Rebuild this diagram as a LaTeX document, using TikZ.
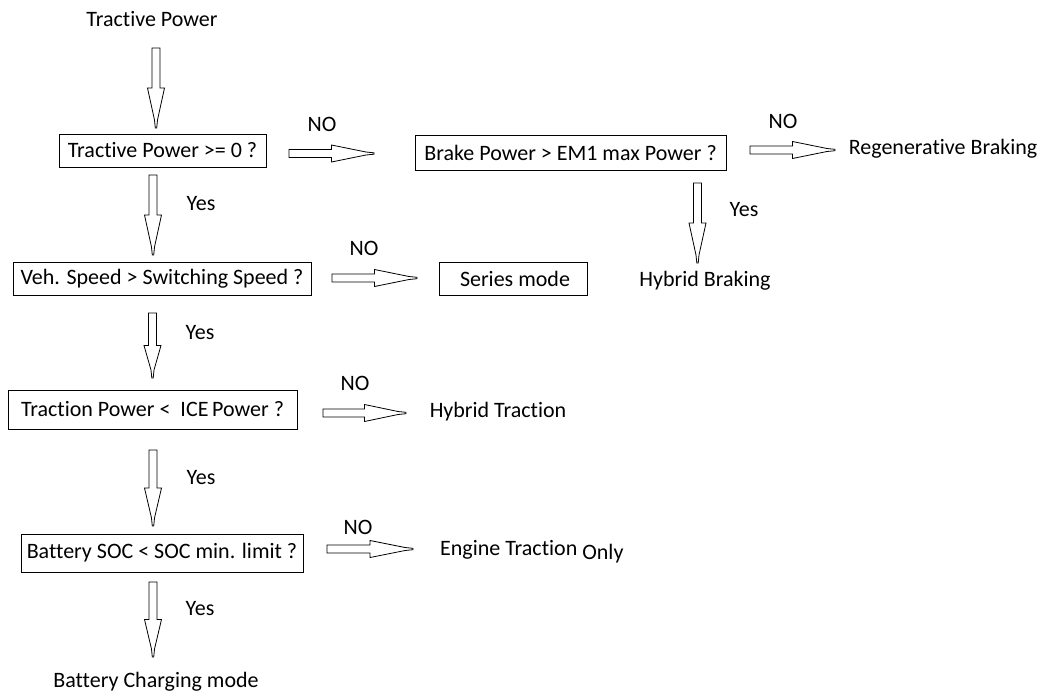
\documentclass[tikz,border=0pt]{standalone}
\usepackage{fontspec}
\setmainfont{Carlito}[Ligatures=NoCommon]
\usetikzlibrary{calc}
\begin{document}
\begin{tikzpicture}[x=1pt,y=-1pt,
  every node/.style={font=\fontsize{22}{24}\selectfont, inner sep=0pt, text=black},
  box/.style={draw, line width=0.9pt},
  lbl/.style={},
  hollow/.style={draw, line width=0.8pt, line join=miter, to path={
    ($(\tikztostart)!4pt!90:(\tikztotarget)$)
    -- ($(\tikztostart)!0.5!(\tikztotarget)!4pt!90:(\tikztotarget)$)
    -- ($(\tikztostart)!0.5!(\tikztotarget)!8.5pt!90:(\tikztotarget)$)
    -- ($(\tikztotarget)!8pt!(\tikztostart)!1.5pt!-90:(\tikztostart)$)
    -- ($(\tikztotarget)!0.7pt!-90:(\tikztostart)$)
    -- ($(\tikztotarget)!0.7pt!90:(\tikztostart)$)
    -- ($(\tikztotarget)!8pt!(\tikztostart)!1.5pt!90:(\tikztostart)$)
    -- ($(\tikztostart)!0.5!(\tikztotarget)!8.5pt!-90:(\tikztotarget)$)
    -- ($(\tikztostart)!0.5!(\tikztotarget)!4pt!-90:(\tikztotarget)$)
    -- ($(\tikztostart)!4pt!-90:(\tikztotarget)$)
    -- cycle}}
]
\useasboundingbox (0,0) rectangle (1045,694);

% ---- text and decision boxes ----
\node[lbl] (start) at (152,19) {Tractive Power};
\node[box, minimum width=207pt, minimum height=33pt] (q1) at (162.5,150.5) {Tractive Power >= 0 ?};
\node[box, minimum width=311pt, minimum height=35pt] (q2) at (570.5,152.5) {Brake Power > EM1 max Power ?};
\node[lbl] (regen) at (943,149) {Regenerative Braking};
\node[lbl] (hbrake) at (705,281) {Hybrid Braking};
\node[box, minimum width=298pt, minimum height=33pt] (q3) at (162,278.5) {Veh. Speed > Switching Speed ?};
\node[box, minimum width=148pt, minimum height=33pt] (series) at (513,278.5) {\hspace{4pt}Series mode};
\node[box, minimum width=289pt, minimum height=39pt] (q4) at (152.5,409.5) {Traction Power <\ \ ICE\,Power ?};
\node[lbl] (htrac) at (498,412) {Hybrid Traction};
\node[box, minimum width=282pt, minimum height=38pt] (q5) at (162,553) {Battery SOC < SOC min. limit ?};
\node[lbl, anchor=west] (engine) at (440,552) {Engine Traction \raisebox{-4pt}{Only}};
\node[lbl] (charge) at (156,682) {Battery Charging mode};

% ---- branch labels ----
\node (no1) at (322,124) {NO};
\node (no2) at (783,121) {NO};
\node (no3) at (364,248) {NO};
\node (no4) at (355,383) {NO};
\node (no5) at (358,527) {NO};
\node (yes1) at (201,204) {Yes};
\node (yes2) at (744,210) {Yes};
\node (yes3) at (200,333) {Yes};
\node (yes4) at (201,478) {Yes};
\node (yes5) at (200,609) {Yes};

% ---- block arrow end points ----
\coordinate (a0s) at (156,48);   \coordinate (a0e) at (156,128);
\coordinate (a1s) at (153,175);  \coordinate (a1e) at (153,255);
\coordinate (a2s) at (152.5,313);\coordinate (a2e) at (152.5,378);
\coordinate (a3s) at (153,450);  \coordinate (a3e) at (153,526);
\coordinate (a4s) at (153,582);  \coordinate (a4e) at (153,657);
\coordinate (a5s) at (697.5,183);\coordinate (a5e) at (697.5,263);
\coordinate (h1s) at (289,153.5);\coordinate (h1e) at (374,153.5);
\coordinate (h2s) at (750,150);  \coordinate (h2e) at (835,150);
\coordinate (h3s) at (332,278);  \coordinate (h3e) at (417,278);
\coordinate (h4s) at (323,413);  \coordinate (h4e) at (406,413);
\coordinate (h5s) at (327,549);  \coordinate (h5e) at (413,549);

% ---- block arrows ----
\draw[hollow] (a0s) to (a0e);
\draw[hollow] (a1s) to (a1e);
\draw[hollow] (a2s) to (a2e);
\draw[hollow] (a3s) to (a3e);
\draw[hollow] (a4s) to (a4e);
\draw[hollow] (a5s) to (a5e);
\draw[hollow] (h1s) to (h1e);
\draw[hollow] (h2s) to (h2e);
\draw[hollow] (h3s) to (h3e);
\draw[hollow] (h4s) to (h4e);
\draw[hollow] (h5s) to (h5e);
\end{tikzpicture}
\end{document}
